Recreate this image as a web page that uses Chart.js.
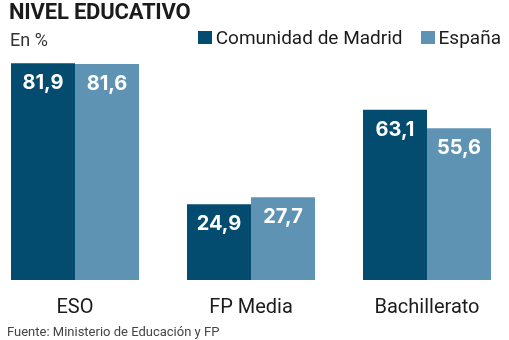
<!DOCTYPE html>
<html>
<head>
<meta charset="utf-8">
<script src="https://cdn.jsdelivr.net/npm/chart.js@4.4.1/dist/chart.umd.min.js"></script>
<style>
  html, body { margin: 0; padding: 0; background: #fff; }
  #wrap { position: relative; width: 509px; height: 340px; overflow: hidden; font-family: Roboto, sans-serif; color: #1b1b1b; }
  #chart { position: absolute; left: -13px; top: 0; }
  .title { position: absolute; left: 9px; top: 1px; font-size: 22px; line-height: 22px; font-weight: 700; letter-spacing: -0.2px; }
  .sub { position: absolute; left: 10px; top: 31px; font-size: 18px; line-height: 18px; color: #333; }
  .legend { position: absolute; right: 8px; top: 28px; display: flex; font-size: 19px; line-height: 19px; color: #1b1b1b; }
  .legend .item { display: flex; align-items: center; margin-left: 18px; }
  .legend i { display: inline-block; width: 14px; height: 13px; margin-right: 4px; }
  .source { position: absolute; left: 7px; top: 325px; font-size: 13px; line-height: 13px; color: #444; }
</style>
</head>
<body>
<div id="wrap">
  <canvas id="chart" width="528" height="340"></canvas>
  <div class="title">NIVEL EDUCATIVO</div>
  <div class="sub">En %</div>
  <div class="legend" id="legend"></div>
  <div class="source">Fuente: Ministerio de Educación y FP</div>
</div>
<script>
// data
const categories = ["ESO", "FP Media", "Bachillerato"];
const seriesNames = ["Comunidad de Madrid", "España"];
const madrid = [81.9, 24.9, 63.1];
const espana = [81.6, 27.7, 55.6];
const colors = ["#034b6f", "#5e93b3"];

// the bars in the picture rise from a bit below zero
const AXIS_MIN = -5.7;
const AXIS_MAX = 82;

const fmt = v => v.toFixed(1).replace(".", ",");

// value labels inside the top of each bar
const barLabels = {
  id: "barLabels",
  afterDatasetsDraw(chart) {
    const ctx = chart.ctx;
    ctx.save();
    ctx.fillStyle = "#fff";
    ctx.font = "bold 20px Inter, Roboto, sans-serif";
    ctx.textAlign = "center";
    ctx.textBaseline = "alphabetic";
    chart.data.datasets.forEach((ds, i) => {
      chart.getDatasetMeta(i).data.forEach((bar, j) => {
        ctx.fillText(fmt(ds.data[j]), bar.x, bar.y + 26);
      });
    });
    ctx.restore();
  }
};

const chart = new Chart(document.getElementById("chart"), {
  type: "bar",
  data: {
    labels: categories,
    datasets: [
      { label: seriesNames[0], data: madrid, backgroundColor: colors[0], base: AXIS_MIN },
      { label: seriesNames[1], data: espana, backgroundColor: colors[1], base: AXIS_MIN }
    ]
  },
  options: {
    responsive: false,
    animation: false,
    categoryPercentage: 128 / 176,
    barPercentage: 1.0,
    layout: { padding: { top: 63, bottom: 12, left: 0, right: 0 } },
    plugins: {
      legend: { display: false },
      tooltip: { enabled: false }
    },
    scales: {
      x: {
        grid: { display: false },
        border: { display: false },
        ticks: {
          color: "#1b1b1b",
          padding: 8,
          font: { family: "Roboto, sans-serif", size: 20 }
        }
      },
      y: {
        display: false,
        min: AXIS_MIN,
        max: AXIS_MAX
      }
    }
  },
  plugins: [barLabels]
});

// legend built from the datasets
document.getElementById("legend").innerHTML = chart.data.datasets
  .map(ds => `<span class="item"><i style="background:${ds.backgroundColor}"></i>${ds.label}</span>`)
  .join("");
</script>
</body>
</html>
